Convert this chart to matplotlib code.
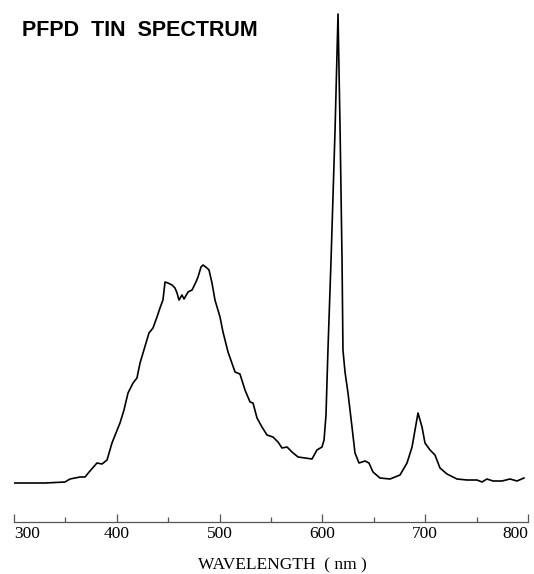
import matplotlib
matplotlib.use("Agg")
import matplotlib.pyplot as plt
from matplotlib.ticker import MultipleLocator

# spectrum (wavelength in nm, intensity in arbitrary units)
wavelength = [300.0, 315.6, 330.2, 349.6, 354.5, 364.2, 369.1, 373.9, 380.7, 385.6,
              390.5, 395.3, 399.2, 403.1, 407.0, 410.9, 415.8, 419.6, 422.6, 425.5,
              431.3, 435.2, 439.1, 442.0, 444.9, 446.9, 449.8, 453.7, 456.6, 458.6,
              460.5, 463.4, 465.4, 469.3, 473.2, 477.0, 479.0, 481.9, 483.9, 487.7,
              489.7, 492.6, 495.5, 500.4, 503.3, 508.2, 515.0, 519.8, 524.7, 529.6,
              532.5, 536.4, 541.2, 546.1, 551.9, 556.8, 560.7, 565.6, 570.4, 576.3,
              583.1, 589.9, 594.7, 599.6, 601.6, 603.5, 605.4, 608.4, 612.3, 615.2,
              617.2, 619.1, 620.0, 622.0, 624.9, 628.8, 631.7, 635.6, 641.4, 645.3,
              649.2, 656.0, 665.8, 675.5, 682.3, 687.2, 690.1, 693.0, 696.9, 699.8,
              704.7, 709.5, 714.4, 721.2, 730.9, 740.7, 750.4, 755.3, 760.1, 766.0,
              774.7, 782.5, 789.3, 796.1]
intensity = [39, 39, 39, 40, 43, 45, 45, 51, 59, 58,
             62, 79, 89, 99, 112, 129, 139, 144, 159, 169,
             189, 194, 205, 214, 222, 240, 239, 237, 234, 229,
             222, 227, 223, 230, 232, 240, 245, 255, 257, 254,
             252, 239, 222, 205, 190, 170, 150, 148, 132, 120,
             119, 104, 95, 87, 85, 80, 74, 75, 70, 65,
             64, 63, 72, 75, 82, 107, 172, 262, 392, 508,
             392, 262, 172, 150, 129, 95, 69, 59, 61, 59,
             50, 44, 43, 47, 59, 75, 92, 109, 95, 79,
             72, 67, 54, 48, 43, 42, 42, 40, 43, 41,
             41, 43, 41, 44]

tick_vals = [300, 400, 500, 600, 700, 800]

fig = plt.figure(figsize=(5.34, 5.74), dpi=100)
ax = fig.add_axes([14 / 534, 52 / 574, 514 / 534, 522 / 574])

ax.plot(wavelength, intensity, color='black', linewidth=1.2)
ax.set_xlim(300, 800)
ax.set_ylim(0, 522)

for side in ['left', 'right', 'top']:
    ax.spines[side].set_visible(False)
ax.spines['bottom'].set_color('#555555')
ax.spines['bottom'].set_linewidth(0.9)
ax.set_yticks([])

ax.set_xticks(tick_vals)
ax.xaxis.set_minor_locator(MultipleLocator(50))
ax.tick_params(axis='x', which='major', direction='in', length=6, width=0.9,
               color='#555555', pad=3)
ax.tick_params(axis='x', which='minor', direction='in', length=3.5, width=0.9,
               color='#555555')
labels = ax.set_xticklabels([str(v) for v in tick_vals], family='Liberation Serif',
                            fontsize=12.5)
labels[0].set_horizontalalignment('left')
labels[-1].set_horizontalalignment('right')

fig.text(282 / 534, 1 - 565 / 574, 'WAVELENGTH  ( nm )', family='Liberation Serif',
         fontsize=12.5, ha='center', va='center')
fig.text(22 / 534, 1 - 31 / 574, 'PFPD  TIN  SPECTRUM', family='Liberation Sans',
         fontweight='bold', fontsize=15.5, ha='left', va='center')

plt.savefig('out.png', dpi=100)
